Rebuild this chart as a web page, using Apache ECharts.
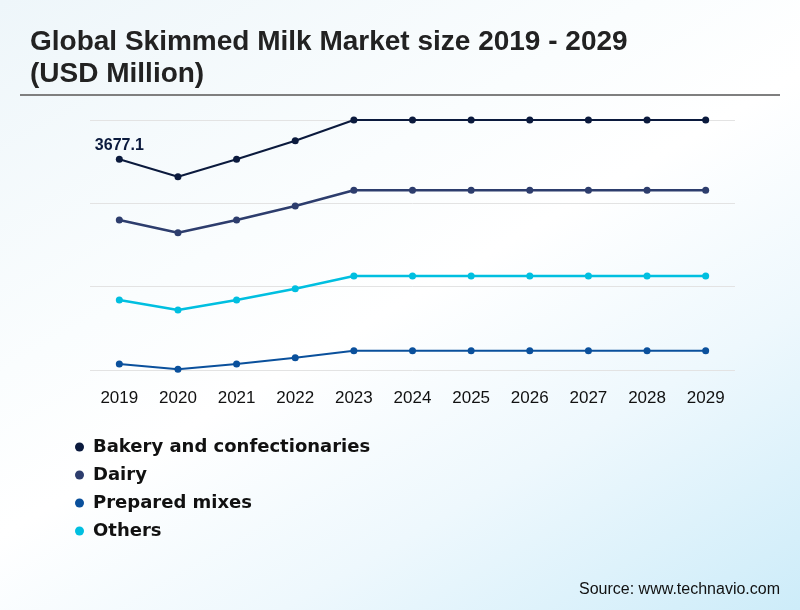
<!DOCTYPE html>
<html>
<head>
<meta charset="utf-8">
<script src="https://cdn.jsdelivr.net/npm/echarts@6/dist/echarts.min.js"></script>
<style>
html,body{margin:0;padding:0;width:800px;height:610px;overflow:hidden;}
body{background:linear-gradient(150deg,#eef6fa 0%,#fafdfe 35%,#ffffff 50%,#eef8fd 72%,#cdecf9 100%);}
#chart{width:800px;height:610px;}
</style>
</head>
<body>
<div id="chart"></div>
<script>
const years = ['2019','2020','2021','2022','2023','2024','2025','2026','2027','2028','2029'];
const preparedMixes = [104.7, 12, 104.7, 215, 337, 337, 337, 337, 337, 337, 337];
const others = [1117, 1035, 1117, 1204, 1304, 1304, 1304, 1304, 1304, 1304, 1304];
const dairy = [1396, 1349, 1396, 1443, 1496, 1496, 1496, 1496, 1496, 1496, 1496];
const bakery = [1059.4, 977, 1059.4, 1140, 1227, 1227, 1227, 1227, 1227, 1227, 1227];
const legendNames = ['Bakery and confectionaries', 'Dairy', 'Prepared mixes', 'Others'];
const axisMax = 4363;

const total2019 = (preparedMixes[0] + others[0] + dairy[0] + bakery[0]).toFixed(1);

const chart = echarts.init(document.getElementById('chart'));
function mk(name, data, color, width, extra) {
  return Object.assign({
    name: name, type: 'line', stack: 'total', data: data,
    symbol: 'circle', symbolSize: 7,
    lineStyle: {color: color, width: width},
    itemStyle: {color: color},
    animation: false
  }, extra || {});
}
chart.setOption({
  backgroundColor: 'transparent',
  title: {
    text: 'Global Skimmed Milk Market size 2019 - 2029\n(USD Million)',
    left: 30, top: 26, padding: 0,
    textStyle: {fontFamily: 'Liberation Sans, Arial, sans-serif', fontSize: 28, fontWeight: 'bold', color: '#222222', lineHeight: 32}
  },
  graphic: [{type: 'line', shape: {x1: 20, y1: 95, x2: 780, y2: 95}, style: {stroke: '#7f7f7f', lineWidth: 2}},
    {type: 'text', right: 20, top: 582, style: {text: 'Source: www.technavio.com', font: '16px "Liberation Sans", Arial, sans-serif', fill: '#111111'}}],
  legend: {
    orient: 'vertical', left: 70, top: 433, itemGap: 10,
    data: legendNames, icon: 'circle', itemWidth: 9, itemHeight: 9,
    textStyle: {fontFamily: 'DejaVu Sans, sans-serif', fontSize: 18, fontWeight: 'bold', color: '#111111', padding: [0, 0, 0, 4]}
  },
  grid: {left: 90, top: 120, width: 645, height: 250},
  xAxis: {
    type: 'category', data: years, boundaryGap: true,
    axisLine: {show: false}, axisTick: {show: false},
    axisLabel: {margin: 20, fontFamily: 'Liberation Sans, Arial, sans-serif', fontSize: 17, color: '#111111'}
  },
  yAxis: {
    type: 'value', min: 0, max: axisMax, interval: axisMax / 3,
    axisLabel: {show: false}, axisLine: {show: false}, axisTick: {show: false},
    splitLine: {lineStyle: {color: '#e3e3e3', width: 1}}
  },
  series: [
    mk('Prepared mixes', preparedMixes, '#0a509c', 2),
    mk('Others', others, '#00bfe0', 2.5),
    mk('Dairy', dairy, '#2d3d6d', 2.5),
    mk('Bakery and confectionaries', bakery, '#0b1a3d', 2, {
      label: {show: true, position: 'top', distance: 2,
        formatter: function (p) { return p.dataIndex === 0 ? total2019 : ''; },
        fontFamily: 'Liberation Sans, Arial, sans-serif', fontSize: 16, fontWeight: 'bold', color: '#0b1a3d'}
    })
  ]
});
</script>
</body>
</html>
